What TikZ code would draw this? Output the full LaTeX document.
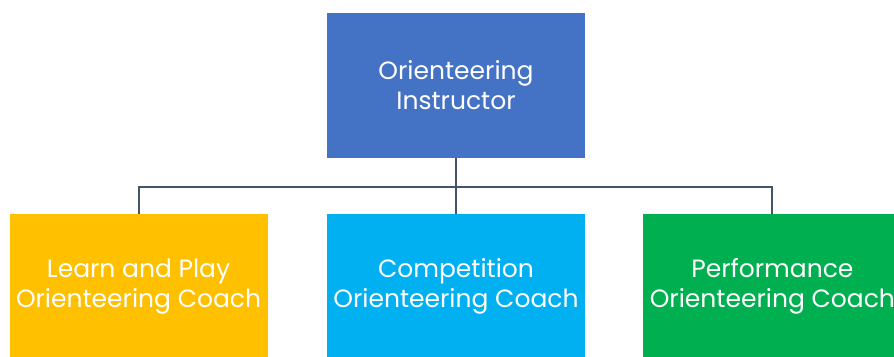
\documentclass[tikz,border=0pt]{standalone}
\usepackage{fontspec}
\setmainfont{Poppins}
\usetikzlibrary{positioning}

\definecolor{instblue}{HTML}{4472C4}
\definecolor{learnyellow}{HTML}{FFC000}
\definecolor{compblue}{HTML}{00B0F0}
\definecolor{perfgreen}{HTML}{00B050}
\definecolor{linkgray}{HTML}{44546A}

\tikzset{
	role/.style={minimum width=258pt, minimum height=145pt, inner sep=0pt,
		align=center, text=white, font=\fontsize{25}{30}\selectfont},
	link/.style={draw=linkgray, line width=2pt},
}

\begin{document}
\begin{tikzpicture}[x=1pt, y=-1pt]
	\useasboundingbox (0,0) rectangle (894,356);

	\node [role, fill=instblue] (inst) at (456,85) {Orienteering\\Instructor};
	\node [role, fill=compblue, below=56pt of inst] (comp) {Competition\\Orienteering Coach};
	\node [role, fill=learnyellow, left=59pt of comp] (learn) {Learn and Play\\Orienteering Coach};
	\node [role, fill=perfgreen, right=58pt of comp] (perf) {Performance\\Orienteering Coach};

	\coordinate (bus) at (456,187);

	\draw [link] (inst.south) -- (bus) -- (comp.north);
	\draw [link] (learn.north) |- (bus) -| (perf.north);
\end{tikzpicture}
\end{document}
